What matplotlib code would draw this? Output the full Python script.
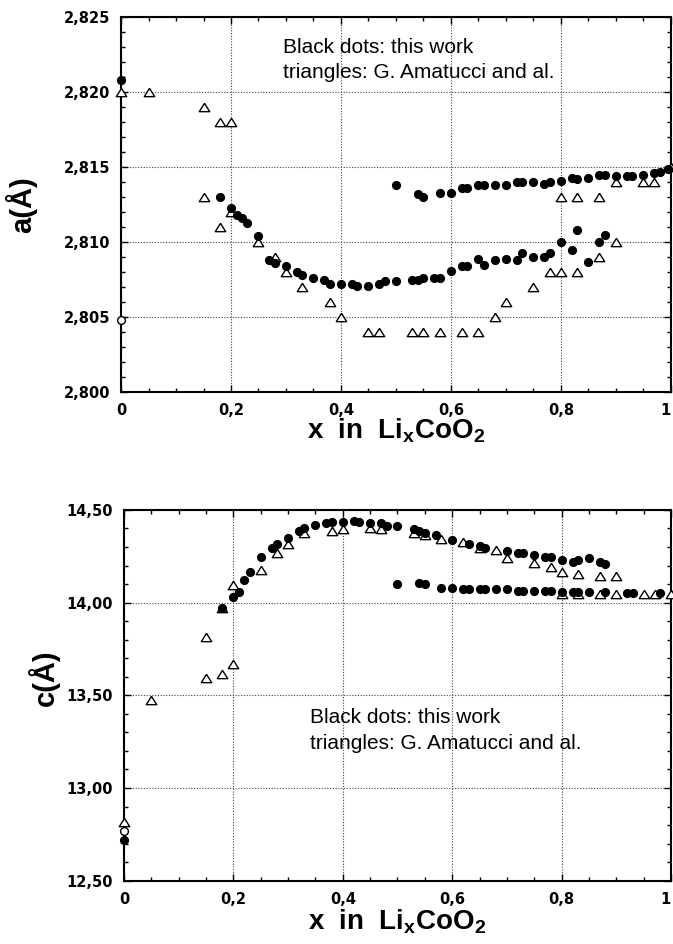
import matplotlib.pyplot as plt
from matplotlib.ticker import MultipleLocator, FuncFormatter

plt.rcParams['mathtext.fontset'] = 'custom'
plt.rcParams['mathtext.bf'] = 'Liberation Sans:bold'
plt.rcParams['mathtext.rm'] = 'Liberation Sans:bold'

# ---- a parameter (top panel) ----
a_dots_x = [0.0, 0.18, 0.20, 0.21, 0.22, 0.23, 0.25, 0.27, 0.28, 0.30, 0.32, 0.33,
            0.35, 0.37, 0.38, 0.40, 0.42, 0.43, 0.45, 0.47, 0.48, 0.50, 0.53, 0.54,
            0.55, 0.57, 0.58, 0.60, 0.62, 0.63, 0.65, 0.66, 0.68, 0.70, 0.72, 0.73,
            0.75, 0.77, 0.78, 0.80, 0.82, 0.83, 0.85, 0.87, 0.88,
            0.50, 0.54, 0.55, 0.58, 0.60, 0.62, 0.63, 0.65, 0.66, 0.68, 0.70, 0.72,
            0.73, 0.75, 0.77, 0.78, 0.80, 0.82, 0.83, 0.85, 0.87, 0.88, 0.90, 0.92,
            0.93, 0.95, 0.97, 0.98, 0.995]
a_dots_y = [2.8208, 2.8130, 2.8123, 2.8118, 2.8116, 2.8113, 2.8104, 2.8088, 2.8086,
            2.8084, 2.8080, 2.8078, 2.8076, 2.8075, 2.8072, 2.8072, 2.8072, 2.8071,
            2.8071, 2.8072, 2.8074, 2.8074, 2.8075, 2.8075, 2.8076, 2.8076, 2.8076,
            2.8081, 2.8084, 2.8084, 2.8089, 2.8085, 2.8088, 2.8089, 2.8088, 2.8093,
            2.8090, 2.8090, 2.8093, 2.8100, 2.8095, 2.8108, 2.8087, 2.8100, 2.8105,
            2.8138, 2.8132, 2.8130, 2.8133, 2.8133, 2.8136, 2.8136, 2.8138, 2.8138,
            2.8138, 2.8138, 2.8140, 2.8140, 2.8140, 2.8139, 2.8140, 2.8141, 2.8143,
            2.8142, 2.8143, 2.8145, 2.8145, 2.8144, 2.8144, 2.8144, 2.8145, 2.8146,
            2.8147, 2.8149]
a_open_x = [0.0]
a_open_y = [2.8048]
a_tri_x = [0.0, 0.05, 0.15, 0.18, 0.20, 0.15, 0.18, 0.20, 0.25, 0.28, 0.30, 0.33,
           0.38, 0.40, 0.45, 0.47, 0.53, 0.55, 0.58, 0.62, 0.65, 0.68, 0.70, 0.75,
           0.78, 0.80, 0.83, 0.87, 0.90, 0.80, 0.83, 0.87, 0.90, 0.95, 0.97, 1.00]
a_tri_y = [2.820, 2.820, 2.819, 2.818, 2.818, 2.813, 2.811, 2.812, 2.810, 2.809,
           2.808, 2.807, 2.806, 2.805, 2.804, 2.804, 2.804, 2.804, 2.804, 2.804,
           2.804, 2.805, 2.806, 2.807, 2.808, 2.808, 2.808, 2.809, 2.810, 2.813,
           2.813, 2.813, 2.814, 2.814, 2.814, 2.815]

# ---- c parameter (bottom panel) ----
c_dots_x = [0.0, 0.18, 0.20, 0.21, 0.22, 0.23, 0.25, 0.27, 0.28, 0.30, 0.32, 0.33,
            0.35, 0.37, 0.38, 0.40, 0.42, 0.43, 0.45, 0.47, 0.48, 0.50, 0.53, 0.54,
            0.55, 0.57, 0.60, 0.63, 0.65, 0.66, 0.70, 0.72, 0.73, 0.75, 0.77, 0.78,
            0.80, 0.82, 0.83, 0.85, 0.87, 0.88,
            0.50, 0.54, 0.55, 0.58, 0.60, 0.62, 0.63, 0.65, 0.66, 0.68, 0.70, 0.72,
            0.73, 0.75, 0.77, 0.78, 0.80, 0.82, 0.83, 0.85, 0.88, 0.92, 0.93, 0.98]
c_dots_y = [12.72, 13.97, 14.03, 14.056, 14.12, 14.167, 14.248, 14.297, 14.317,
            14.347, 14.388, 14.405, 14.419, 14.432, 14.435, 14.437, 14.442, 14.437,
            14.432, 14.428, 14.415, 14.412, 14.396, 14.388, 14.378, 14.363, 14.336,
            14.315, 14.306, 14.297, 14.280, 14.266, 14.266, 14.257, 14.248, 14.245,
            14.230, 14.218, 14.230, 14.239, 14.218, 14.207,
            14.099, 14.108, 14.099, 14.077, 14.077, 14.074, 14.074, 14.072, 14.072,
            14.072, 14.072, 14.065, 14.065, 14.063, 14.063, 14.063, 14.060, 14.060,
            14.058, 14.060, 14.058, 14.052, 14.052, 14.052]
c_open_x = [0.0]
c_open_y = [12.77]
c_tri_x = [0.0, 0.05, 0.15, 0.15, 0.18, 0.18, 0.20, 0.20, 0.25, 0.28, 0.30, 0.33,
           0.38, 0.40, 0.45, 0.47, 0.53, 0.55, 0.58, 0.62, 0.65, 0.68, 0.70, 0.75,
           0.78, 0.80, 0.83, 0.87, 0.90,
           0.80, 0.83, 0.87, 0.90, 0.95, 0.97, 1.00]
c_tri_y = [12.816, 13.475, 13.595, 13.816, 13.613, 13.97, 13.669, 14.095, 14.176,
           14.266, 14.315, 14.374, 14.388, 14.396, 14.401, 14.396, 14.374, 14.363,
           14.345, 14.326, 14.295, 14.284, 14.239, 14.212, 14.194, 14.164, 14.155,
           14.146, 14.146,
           14.047, 14.047, 14.047, 14.047, 14.047, 14.047, 14.047]

note_lines = ["Black dots: this work", "triangles: G. Amatucci and al."]

tri_marker = [(0, 0.8), (-1, -0.8), (1, -0.8), (0, 0.8)]


def style_axes(ax, ymin, ymax, ymajor, yminor, yfmt):
    ax.set_xlim(0, 1)
    ax.set_ylim(ymin, ymax)
    ax.xaxis.set_major_locator(MultipleLocator(0.2))
    ax.xaxis.set_minor_locator(MultipleLocator(0.05))
    ax.yaxis.set_major_locator(MultipleLocator(ymajor))
    ax.yaxis.set_minor_locator(MultipleLocator(yminor))
    ax.xaxis.set_major_formatter(FuncFormatter(lambda v, p: f"{v:g}".replace('.', ',')))
    ax.yaxis.set_major_formatter(FuncFormatter(lambda v, p: yfmt.format(v).replace('.', ',')))
    ax.tick_params(which='both', direction='in', top=True, right=True, width=1)
    ax.tick_params(which='major', length=5, labelsize=10.5, pad=8)
    ax.tick_params(which='minor', length=3)
    fig.canvas.draw()
    xlabs = ax.get_xticklabels()
    for lab in xlabs + ax.get_yticklabels():
        lab.set_fontweight('bold')
        lab.set_family('DejaVu Sans')
    # keep the "1" at the right end inside the figure
    for lab in xlabs:
        if lab.get_text() == '1':
            lab.set_horizontalalignment('right')
    for sp in ax.spines.values():
        sp.set_linewidth(1.5)
    ax.grid(True, which='major', color='#444444', linestyle=(0, (1, 1.5)), linewidth=0.8)
    ax.set_axisbelow(True)


def draw(ax, dx, dy, ox, oy, tx, ty):
    ax.plot(tx, ty, linestyle='none', marker=tri_marker, markersize=7.5,
            markerfacecolor='white', markeredgecolor='black', markeredgewidth=1,
            clip_on=False, zorder=3)
    ax.plot(dx, dy, linestyle='none', marker='o', markersize=5.6,
            color='black', clip_on=False, zorder=4)
    ax.plot(ox, oy, linestyle='none', marker='o', markersize=5.6,
            markerfacecolor='white', markeredgecolor='black', markeredgewidth=1,
            clip_on=False, zorder=4)


fig = plt.figure(figsize=(6.73, 9.44), dpi=100)

ax1 = fig.add_axes([0.1798, 0.5847, 0.8172, 0.3972])
draw(ax1, a_dots_x, a_dots_y, a_open_x, a_open_y, a_tri_x, a_tri_y)
style_axes(ax1, 2.800, 2.825, 0.005, 0.001, "{:.3f}")
ax1.set_ylabel("a(Å)", fontsize=21, fontweight='bold', family='Liberation Sans')
ax1.yaxis.set_label_coords(-0.152, 0.5)
ax1.set_xlabel(r"x  in  Li$_{\mathbf{x}}$CoO$_{\mathbf{2}}$", fontsize=20,
               fontweight='bold', family='Liberation Sans')
ax1.xaxis.set_label_coords(0.5, -0.065)
ax1.text(0.295, 0.92, note_lines[0], transform=ax1.transAxes, fontsize=15,
         family='Liberation Sans', va='center')
ax1.text(0.295, 0.853, note_lines[1], transform=ax1.transAxes, fontsize=15,
         family='Liberation Sans', va='center')

ax2 = fig.add_axes([0.1842, 0.0671, 0.8128, 0.3927])
draw(ax2, c_dots_x, c_dots_y, c_open_x, c_open_y, c_tri_x, c_tri_y)
style_axes(ax2, 12.5, 14.5, 0.5, 0.1, "{:.2f}")
ax2.set_ylabel("c(Å)", fontsize=21, fontweight='bold', family='Liberation Sans')
ax2.yaxis.set_label_coords(-0.117, 0.547)
ax2.set_xlabel(r"x  in  Li$_{\mathbf{x}}$CoO$_{\mathbf{2}}$", fontsize=20,
               fontweight='bold', family='Liberation Sans')
ax2.xaxis.set_label_coords(0.5, -0.072)
ax2.text(0.34, 0.44, note_lines[0], transform=ax2.transAxes, fontsize=15,
         family='Liberation Sans', va='center')
ax2.text(0.34, 0.371, note_lines[1], transform=ax2.transAxes, fontsize=15,
         family='Liberation Sans', va='center')

fig.savefig("out.png", dpi=100)
plt.close(fig)
